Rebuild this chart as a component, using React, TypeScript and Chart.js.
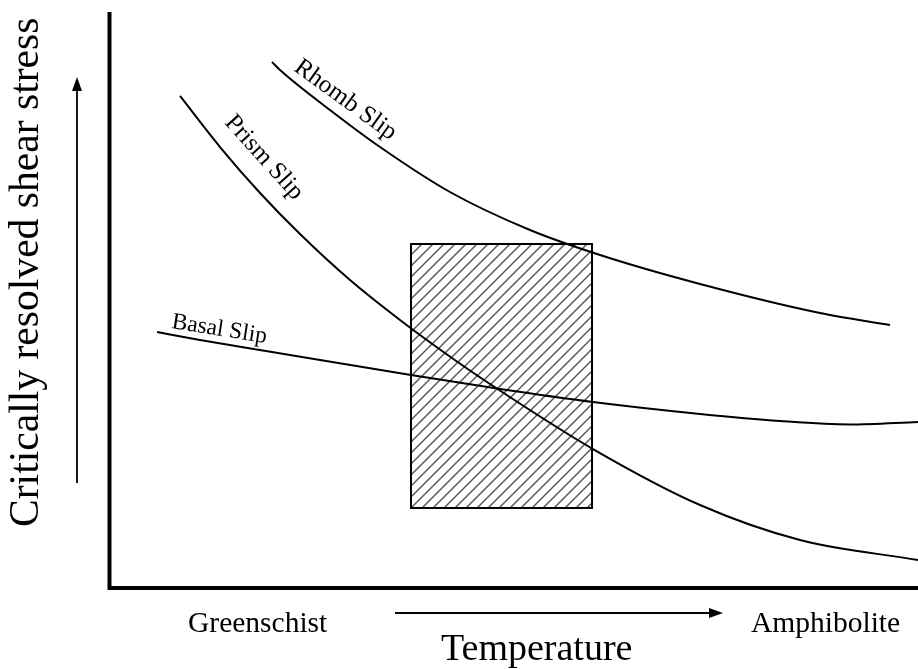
import React, { useEffect, useRef } from "react";
import { Chart, registerables } from "chart.js";

Chart.register(...registerables);

// Data in arbitrary units: x = temperature (0..100), y = CRSS (0..100)
const rhombX = [20.1, 21.09, 27.27, 33.46, 42.11, 52.01, 60.67, 73.04, 87.88, 96.54];
const rhombY = [91.32, 89.93, 82.99, 76.56, 68.75, 62.15, 57.81, 52.78, 47.74, 45.66];

const prismX = [8.72, 13.67, 18.62, 23.56, 29.75, 35.93, 41.13, 47.06, 59.8, 73.04, 85.41, 100];
const prismY = [85.42, 76.56, 68.58, 61.46, 53.47, 46.53, 41.15, 35.42, 24.13, 14.41, 8.33, 4.86];

const basalX = [5.88, 11.19, 20.1, 37.29, 48.33, 59.8, 73.04, 82.93, 91.59, 100];
const basalY = [44.44, 43.06, 40.97, 36.98, 34.55, 32.29, 30.21, 28.99, 28.39, 28.82];

// Hatched window (x range, y range)
const boxX = [37.29, 59.68];
const boxY = [13.89, 59.72];

const curveLabels = ["Rhomb Slip", "Prism Slip", "Basal Slip"];
const xLabelLow = "Greenschist";
const xLabelHigh = "Amphibolite";
const xTitle = "Temperature";
const yTitle = "Critically resolved shear stress";

const FONT = '"Liberation Serif", "Times New Roman", serif';

const toPts = (xs: number[], ys: number[]) => xs.map((x, i) => ({ x, y: ys[i] }));

const decorPlugin = {
  id: "decor",
  beforeDatasetsDraw(chart: any) {
    const { ctx, scales } = chart;
    const xs = scales.x;
    const ys = scales.y;
    const x0 = xs.getPixelForValue(boxX[0]);
    const x1 = xs.getPixelForValue(boxX[1]);
    const y0 = ys.getPixelForValue(boxY[1]);
    const y1 = ys.getPixelForValue(boxY[0]);
    ctx.save();
    ctx.beginPath();
    ctx.rect(x0, y0, x1 - x0, y1 - y0);
    ctx.clip();
    ctx.strokeStyle = "#555";
    ctx.lineWidth = 1.4;
    const step = 11;
    const h = y1 - y0;
    for (let s = x0 - h; s < x1 + h; s += step) {
      ctx.beginPath();
      ctx.moveTo(s, y1);
      ctx.lineTo(s + h, y0);
      ctx.stroke();
    }
    ctx.restore();
    ctx.save();
    ctx.strokeStyle = "#000";
    ctx.lineWidth = 2;
    ctx.strokeRect(x0, y0, x1 - x0, y1 - y0);
    ctx.restore();
  },
  afterDatasetsDraw(chart: any) {
    const { ctx, chartArea } = chart;
    const { left, right, top, bottom } = chartArea;
    ctx.save();
    ctx.fillStyle = "#000";
    ctx.strokeStyle = "#000";
    ctx.lineWidth = 4;
    ctx.beginPath();
    ctx.moveTo(left, top);
    ctx.lineTo(left, bottom + 2);
    ctx.moveTo(left - 2, bottom);
    ctx.lineTo(right, bottom);
    ctx.stroke();

    const drawRot = (t: string, x: number, y: number, deg: number, size: number) => {
      ctx.save();
      ctx.translate(x, y);
      ctx.rotate((deg * Math.PI) / 180);
      ctx.font = `${size}px ${FONT}`;
      ctx.textAlign = "left";
      ctx.textBaseline = "alphabetic";
      ctx.fillText(t, 0, 0);
      ctx.restore();
    };
    drawRot(curveLabels[0], 293, 70, 36, 25);
    drawRot(curveLabels[1], 224, 123, 48, 25);
    drawRot(curveLabels[2], 171, 328, 9, 23.5);

    ctx.font = `29.5px ${FONT}`;
    ctx.textAlign = "left";
    ctx.textBaseline = "alphabetic";
    ctx.fillText(xLabelLow, 188, 632);
    ctx.fillText(xLabelHigh, 751, 632);
    ctx.font = `38px ${FONT}`;
    ctx.fillText(xTitle, 441, 660);

    ctx.save();
    ctx.translate(38, 527);
    ctx.rotate(-Math.PI / 2);
    ctx.font = `41.6px ${FONT}`;
    ctx.fillText(yTitle, 0, 0);
    ctx.restore();

    ctx.lineWidth = 1.8;
    ctx.beginPath();
    ctx.moveTo(395, 613);
    ctx.lineTo(712, 613);
    ctx.stroke();
    ctx.beginPath();
    ctx.moveTo(723, 613);
    ctx.lineTo(709, 608);
    ctx.lineTo(709, 618);
    ctx.closePath();
    ctx.fill();

    ctx.beginPath();
    ctx.moveTo(77, 483);
    ctx.lineTo(77, 88);
    ctx.stroke();
    ctx.beginPath();
    ctx.moveTo(77, 77);
    ctx.lineTo(72, 91);
    ctx.lineTo(82, 91);
    ctx.closePath();
    ctx.fill();
    ctx.restore();
  },
};

export default function App() {
  const ref = useRef<HTMLCanvasElement>(null);
  useEffect(() => {
    if (!ref.current) return;
    const lineDs = (label: string, data: any) => ({
      label,
      data,
      showLine: true,
      borderColor: "#000",
      borderWidth: 2,
      pointRadius: 0,
      fill: false,
      cubicInterpolationMode: "monotone" as const,
    });
    const chart = new Chart(ref.current, {
      type: "scatter",
      data: {
        datasets: [
          lineDs(curveLabels[0], toPts(rhombX, rhombY)),
          lineDs(curveLabels[1], toPts(prismX, prismY)),
          lineDs(curveLabels[2], toPts(basalX, basalY)),
        ],
      },
      options: {
        animation: false,
        responsive: false,
        devicePixelRatio: 1,
        layout: { padding: { left: 109.5, right: 0, top: 12, bottom: 81 } },
        plugins: { legend: { display: false }, tooltip: { enabled: false } },
        scales: {
          x: { type: "linear", min: 0, max: 100, display: false },
          y: { type: "linear", min: 0, max: 100, display: false },
        },
      },
      plugins: [decorPlugin],
    });
    return () => chart.destroy();
  }, []);
  return (
    <div style={{ position: "fixed", left: 0, top: 0, width: 918, height: 669, background: "#fff" }}>
      <canvas ref={ref} width={918} height={669} />
    </div>
  );
}
